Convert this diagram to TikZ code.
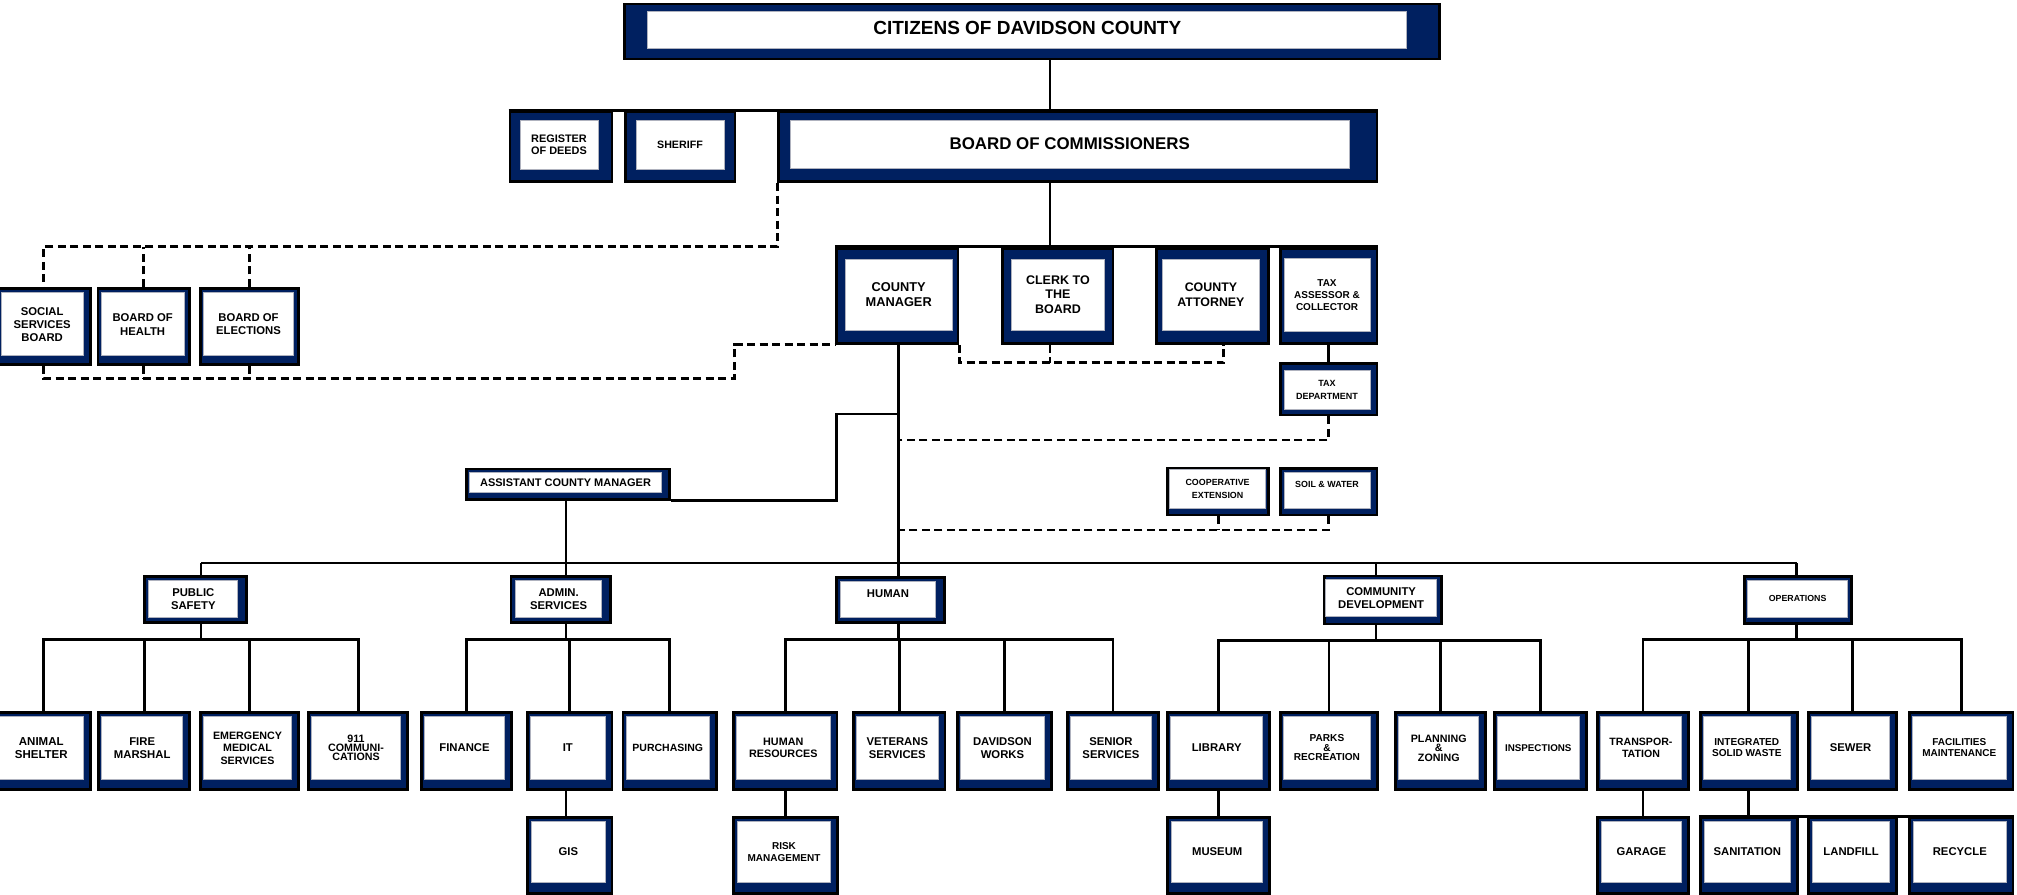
\documentclass[tikz,border=0pt]{standalone}
\usepackage{fontspec}
\setmainfont{Liberation Sans}
\usetikzlibrary{fit,positioning}

\definecolor{unitnavy}{RGB}{0,32,96}
\definecolor{unitrim}{RGB}{175,178,190}

\newcommand{\unitfont}[2]{\bfseries\fontsize{#1}{#2}\selectfont}
\newcommand{\unitinsets}[4]{\def\padL{#1}\def\padT{#2}\def\padR{#3}\def\padB{#4}}
\unitinsets{3}{4}{7}{10.3}
% navy box with a white card inside: [text opts]{name}{x1}{y1}{x2}{y2}{text}
\newcommand{\orgunit}[7][]{%
  \node[unit, fit={(#3,#4) (#5,#6)}] (#2) {};
  \node[unitin, fit={(#3+\padL,#4+\padT) (#5-\padR,#6-\padB)}] (#2-in) {};
  \node[unittext, #1] (#2-txt) at (#2-in.center) {#7};
}

\tikzset{
  unit/.style={draw=black, fill=unitnavy, line width=2.9pt, inner sep=0pt},
  unitin/.style={draw=unitrim, fill=white, line width=1pt, inner sep=0pt},
  unittext/.style={align=center, inner sep=0pt, font=\unitfont{11.3}{13}},
  link/.style={line width=2.9pt, draw=black},
  dashlink/.style={link, dash pattern=on 8pt off 4.5pt},
}

\begin{document}
\begin{tikzpicture}[x=1pt, y=-1pt]
\useasboundingbox (0,0) rectangle (2017,894);

% elected
\unitinsets{23}{7.7}{33}{10.7}
\orgunit[font=\unitfont{19}{22}, yshift=2.5pt]{cit}{624.8}{4}{1439.8}{59}{CITIZENS OF DAVIDSON COUNTY}
\unitinsets{10}{8}{14}{12.7}
\orgunit[font=\unitfont{10.9}{12.3}]{rod}{510}{112}{612}{181.7}{REGISTER\\OF DEEDS}
\unitinsets{10.6}{8}{11}{12}
\orgunit[font=\unitfont{10.7}{12}]{shf}{625.4}{112}{735}{181.7}{SHERIFF}
\unitinsets{12}{8}{28}{13.7}
\orgunit[font=\unitfont{16.9}{19}]{bcc}{778.5}{112}{1377}{181.7}{BOARD OF COMMISSIONERS}

% appointed boards
\unitinsets{5}{4.4}{7}{8.6}
\orgunit{ssb}{-4}{288.3}{90.3}{364.3}{SOCIAL\\SERVICES\\BOARD}
\unitinsets{3}{4.4}{5}{8.6}
\orgunit[font=\unitfont{11.3}{14}]{boh}{98}{288.3}{189.3}{364.3}{BOARD OF\\HEALTH}
\orgunit{boe}{200.5}{288.3}{298.5}{364.3}{BOARD OF\\ELECTIONS}

% board staff
\unitinsets{9}{10.7}{6}{13.3}
\orgunit[font=\unitfont{12.8}{15}]{cmgr}{836.4}{248.3}{958}{343.3}{COUNTY\\MANAGER}
\unitinsets{9}{10.7}{9}{13.3}
\orgunit[font=\unitfont{12.5}{14.3}]{clk}{1002.8}{248.3}{1113}{343.3}{CLERK TO\\THE\\BOARD}
\unitinsets{6}{10.7}{9.6}{13.3}
\orgunit[font=\unitfont{12.4}{14.7}]{cty}{1156.7}{248.3}{1268.8}{343.3}{COUNTY\\ATTORNEY}
\unitinsets{3.3}{10}{7}{12.3}
\orgunit[font=\unitfont{10}{12}]{tax}{1280.7}{248.3}{1377}{343.3}{TAX\\ASSESSOR \&\\COLLECTOR}
\unitinsets{3.3}{6.7}{7}{6}
\orgunit[font=\unitfont{9}{13}]{txd}{1280.7}{363.3}{1377}{415}{TAX\\DEPARTMENT}
\unitinsets{2}{1}{3}{6.7}
\orgunit[font=\unitfont{8.9}{13}]{coop}{1167.4}{468.3}{1268.8}{515}{COOPERATIVE\\EXTENSION}
\unitinsets{3.3}{4.4}{7}{6.7}
\orgunit[font=\unitfont{8.9}{11}, yshift=6pt]{soil}{1280.7}{468.3}{1377}{515}{SOIL \& WATER}
\unitinsets{3}{3.3}{8}{7}
\orgunit[font=\unitfont{11}{13}]{acm}{466.5}{469}{669.6}{499.3}{ASSISTANT COUNTY MANAGER}

% departments
\unitinsets{4.5}{4}{9}{5.5}
\orgunit{pub}{144.2}{576.7}{246.9}{622.7}{PUBLIC\\SAFETY}
\orgunit[font=\unitfont{11.3}{12.7}]{adm}{511}{576.7}{610.7}{622.7}{ADMIN.\\SERVICES}
\orgunit[yshift=5.6pt]{hum}{836.2}{577.3}{944.2}{622.7}{HUMAN}
\unitinsets{1.6}{3.3}{5}{7.3}
\orgunit[font=\unitfont{11.3}{12.3}]{cd}{1324.2}{576}{1441.4}{624}{COMMUNITY\\DEVELOPMENT}
\unitinsets{3.2}{3.3}{4}{6}
\orgunit[font=\unitfont{8.8}{11}]{ops}{1744.7}{576.7}{1851.3}{623.3}{OPERATIONS}

% divisions
\unitinsets{3}{4}{7}{10.3}
\orgunit[font=\unitfont{11.5}{13}]{anim}{-4}{712.7}{90.6}{789.3}{ANIMAL\\SHELTER}
\orgunit{fire}{98.7}{712.7}{189.7}{789.3}{FIRE\\MARSHAL}
\orgunit[font=\unitfont{10.7}{12.5}]{ems}{200.4}{712.7}{298.6}{789.3}{EMERGENCY\\MEDICAL\\SERVICES}
\orgunit[font=\unitfont{10.7}{9.3}]{ecc}{308.5}{712.7}{407.6}{789.3}{911\\COMMUNI-\\CATIONS}
\orgunit{fin}{421.4}{712.7}{511.6}{789.3}{FINANCE}
\orgunit{it}{527.7}{712.7}{612}{789.3}{IT}
\orgunit[font=\unitfont{10.5}{12}]{pur}{623}{712.7}{716.5}{789.3}{PURCHASING}
\orgunit[font=\unitfont{10.8}{11.7}]{hr}{733.5}{712.7}{837}{789.3}{HUMAN\\RESOURCES}
\orgunit{vet}{853.6}{712.7}{945}{789.3}{VETERANS\\SERVICES}
\orgunit{dav}{957.6}{712.7}{1051.3}{789.3}{DAVIDSON\\WORKS}
\orgunit{sen}{1067.4}{712.7}{1158.5}{789.3}{SENIOR\\SERVICES}
\orgunit{lib}{1167.8}{712.7}{1269.6}{789.3}{LIBRARY}
\orgunit[font=\unitfont{10.1}{9.5}]{prk}{1280.3}{712.7}{1377.6}{789.3}{PARKS\\\&\\RECREATION}
\orgunit[font=\unitfont{10.7}{9.5}]{pln}{1395.7}{712.7}{1485.8}{789.3}{PLANNING\\\&\\ZONING}
\orgunit[font=\unitfont{9.8}{11}]{ins}{1494.4}{712.7}{1586.1}{789.3}{INSPECTIONS}
\orgunit[font=\unitfont{10.6}{11.7}]{trn}{1597.5}{712.7}{1688.4}{789.3}{TRANSPOR-\\TATION}
\orgunit[font=\unitfont{10.1}{11}]{isw}{1700.2}{712.7}{1797.4}{789.3}{INTEGRATED\\SOLID WASTE}
\orgunit{sew}{1808.5}{712.7}{1896.6}{789.3}{SEWER}
\orgunit[font=\unitfont{10}{11}]{fac}{1909.6}{712.7}{2013}{789.3}{FACILITIES\\MAINTENANCE}

% sections
\unitinsets{4}{3.3}{7}{10.6}
\orgunit{gis}{527.7}{817.7}{612}{893.3}{GIS}
\orgunit[font=\unitfont{10}{12}]{rsk}{733.5}{817.7}{837.5}{893.3}{RISK\\MANAGEMENT}
\orgunit{mus}{1167.8}{817.7}{1269.6}{893.3}{MUSEUM}
\orgunit{gar}{1597.5}{817.7}{1688.4}{893.3}{GARAGE}
\orgunit{san}{1700.2}{817.7}{1797.4}{893.3}{SANITATION}
\orgunit{lnd}{1808.5}{817.7}{1896.6}{893.3}{LANDFILL}
\orgunit{rec}{1909.6}{817.7}{2013}{893.3}{RECYCLE}

% junction points
\coordinate (boardline) at (1050,0);
\coordinate (dlow) at (734.7,378.3);
\coordinate (dclk) at (1223.6,362.7);
\coordinate (dtax) at (898.5,440);
\coordinate (dext) at (898.5,530);
\coordinate (acmj) at (836.4,414);
\coordinate (bpub) at (201,563);
\coordinate (badm) at (566,563);
\coordinate (bhum) at (898.5,563);
\coordinate (bcd) at (1376,563);
\coordinate (bops) at (1796.5,563);

% solid lines
\draw[link] (boardline |- cit.south) -- (boardline |- bcc.north);
\draw[link] (rod.north west) -- (bcc.north east);
\draw[link] (boardline |- bcc.south) -- (boardline |- cmgr.north);
\draw[link] (cmgr.north west) -- (tax.north east);
\draw[link] (tax.south) -- (txd.north);
\draw[link] (bhum |- cmgr.south) -- (bhum |- hum.north);
\draw[link] (bhum |- acmj) -- (acmj) |- (acm.south east);
\draw[link] (badm |- acm.south) -- (badm |- adm.north);
\draw[link] (bpub) -- (bops);
\foreach \d in {pub,cd,ops}
  \draw[link] (b\d) -- (b\d |- \d.north);
\foreach \d/\k in {pub/anim,pub/fire,pub/ems,pub/ecc,adm/fin,adm/it,adm/pur,
                   hum/hr,hum/vet,hum/dav,hum/sen,cd/lib,cd/prk,cd/pln,cd/ins,
                   ops/trn,ops/isw,ops/sew,ops/fac}
  \draw[link] (b\d |- \d.south) -- ++(0,15) -| (\k.north);
\draw[link] (badm |- it.south) -- (badm |- gis.north);
\draw[link] (hr.south) -- (hr.south |- rsk.north);
\draw[link] (lib.south) -- (lib.south |- mus.north);
\draw[link] (trn.south) -- (trn.south |- gar.north);
\draw[link] (isw.south) -- (isw.south |- san.north);
\draw[link] (san.north west) -- (rec.north east);

% dashed lines
\draw[dashlink] (bcc.south west) |- (ssb.north |- cmgr.north) -- (ssb.north);
\draw[dashlink] (boh.north) -- (boh.north |- cmgr.north);
\draw[dashlink] (boe.north) -- (boe.north |- cmgr.north);
\draw[dashlink] (ssb.south) |- (dlow) |- (cmgr.south west);
\draw[dashlink] (boh.south) -- (boh.south |- dlow);
\draw[dashlink] (boe.south) -- (boe.south |- dlow);
\draw[dashlink] (cmgr.south east) |- (dclk) -- (dclk |- cty.south);
\draw[dashlink] (boardline |- clk.south) -- (boardline |- dclk);
\draw[dashlink] (txd.south) |- (dtax);
\draw[dashlink] (soil.south) |- (dext);
\draw[dashlink] (coop.south) -- (coop.south |- dext);
\end{tikzpicture}
\end{document}
